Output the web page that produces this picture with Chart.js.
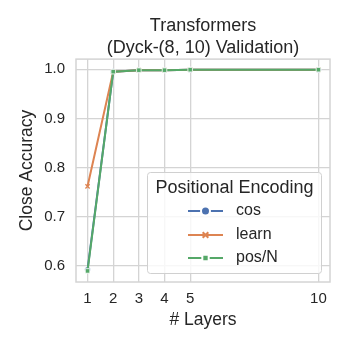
<!DOCTYPE html>
<html>
<head>
<meta charset="utf-8">
<script src="https://cdn.jsdelivr.net/npm/chart.js@4"></script>
<style>
  html, body { margin: 0; padding: 0; background: #ffffff; }
  #wrap { width: 349px; height: 349px; }
</style>
</head>
<body>
<div id="wrap"><canvas id="layersChart" width="349" height="349"></canvas></div>
<script>
// Data
const layers = [1, 2, 3, 4, 5, 10];
const cosAcc = [0.593, 0.995, 0.998, 0.998, 0.999, 0.999];
const learnAcc = [0.762, 0.995, 0.998, 0.998, 0.999, 0.999];
const posNAcc = [0.590, 0.995, 0.998, 0.998, 0.999, 0.999];
const xTicks = [1, 2, 3, 4, 5, 10];
const yTicks = [0.6, 0.7, 0.8, 0.9, 1.0];

const FONT = '"Liberation Sans", Arial, sans-serif';
const TEXT = '#262626';
const GRID = '#d4d4d4';

function toPoints(values) {
    return layers.map((x, i) => ({ x: x, y: values[i] }));
}

// frame around the plot (seaborn whitegrid spines)
const framePlugin = {
    id: 'frame',
    beforeDatasetsDraw(chart) {
        const a = chart.chartArea;
        const ctx = chart.ctx;
        ctx.save();
        ctx.strokeStyle = GRID;
        ctx.lineWidth = 1.5;
        ctx.strokeRect(a.left, a.top, a.right - a.left, a.bottom - a.top);
        ctx.restore();
    }
};

// legend box inside the plot, lower right
const legendPlugin = {
    id: 'boxLegend',
    afterDraw(chart) {
        const ctx = chart.ctx;
        const a = chart.chartArea;
        const x0 = a.right - 9, y0 = a.bottom - 9;
        const w = 174, h = 101;
        const left = x0 - w, top = y0 - h;
        ctx.save();
        ctx.beginPath();
        ctx.roundRect(left + 0.5, top + 0.5, w, h, 3);
        ctx.fillStyle = 'rgba(255,255,255,0.8)';
        ctx.fill();
        ctx.strokeStyle = '#d0d0d0';
        ctx.lineWidth = 1;
        ctx.stroke();

        ctx.fillStyle = TEXT;
        ctx.font = '18px ' + FONT;
        ctx.textAlign = 'center';
        ctx.textBaseline = 'middle';
        ctx.fillText('Positional Encoding', left + w / 2 + 0.5, top + 16);

        ctx.textAlign = 'left';
        ctx.font = '16px ' + FONT;
        const rows = [39, 63, 86];
        chart.data.datasets.forEach((ds, i) => {
            const y = top + rows[i];
            const sx = left + 41;
            ctx.strokeStyle = ds.borderColor;
            ctx.lineWidth = 2;
            ctx.beginPath();
            ctx.moveTo(sx, y);
            ctx.lineTo(sx + 35, y);
            ctx.stroke();
            ctx.fillStyle = ds.borderColor;
            const cross = ds.pointStyle === 'crossRot';
            ctx.strokeStyle = cross ? ds.borderColor : '#ffffff';
            Chart.helpers.drawPoint(ctx, {
                pointStyle: ds.pointStyle,
                radius: cross ? 4 : 4.5,
                rotation: 0,
                borderWidth: cross ? 3 : 0.8
            }, sx + 17.5, y);
            ctx.fillStyle = TEXT;
            ctx.fillText(ds.label, left + 89, y);
        });
        ctx.restore();
    }
};

const ctx = document.getElementById('layersChart').getContext('2d');

new Chart(ctx, {
    type: 'line',
    data: {
        datasets: [
            {
                label: 'cos',
                data: toPoints(cosAcc),
                borderColor: '#4c72b0',
                backgroundColor: '#4c72b0',
                pointBorderColor: '#ffffff',
                pointStyle: 'circle',
                pointRadius: 2.8,
                order: 3
            },
            {
                label: 'learn',
                data: toPoints(learnAcc),
                borderColor: '#dd8452',
                backgroundColor: '#dd8452',
                pointStyle: 'crossRot',
                pointRadius: 3,
                pointBorderWidth: 1.3,
                order: 2
            },
            {
                label: 'pos/N',
                data: toPoints(posNAcc),
                borderColor: '#55a868',
                backgroundColor: '#55a868',
                pointBorderColor: '#ffffff',
                pointStyle: 'rect',
                pointRadius: 3.2,
                order: 1
            }
        ]
    },
    options: {
        responsive: false,
        animation: false,
        devicePixelRatio: 1,
        layout: {
            padding: { left: 0, right: 19, top: 0, bottom: 0 }
        },
        elements: {
            line: { borderWidth: 2, tension: 0 },
            point: { borderWidth: 0.8, hoverRadius: 3 }
        },
        plugins: {
            legend: { display: false },
            tooltip: { enabled: false },
            title: {
                display: true,
                fullSize: false,
                text: ['Transformers', '(Dyck-(8, 10) Validation)'],
                color: TEXT,
                font: { family: FONT, size: 18, weight: 'normal', lineHeight: 1.17 },
                padding: { top: 16, bottom: 1 }
            }
        },
        scales: {
            x: {
                type: 'linear',
                min: 0.55,
                max: 10.45,
                afterBuildTicks: (scale) => {
                    scale.ticks = xTicks.map(v => ({ value: v }));
                },
                afterFit: (scale) => { scale.height = 67; },
                grid: { color: GRID, lineWidth: 1.3, drawTicks: false },
                border: { display: false },
                ticks: {
                    color: TEXT,
                    font: { family: FONT, size: 15 },
                    padding: 8,
                    maxRotation: 0,
                    callback: (v) => String(v)
                },
                title: {
                    display: true,
                    text: '# Layers',
                    color: TEXT,
                    font: { family: FONT, size: 17.5, lineHeight: 1.2 },
                    padding: { top: 0, bottom: 18 }
                }
            },
            y: {
                min: 0.5675,
                max: 1.0205,
                afterBuildTicks: (scale) => {
                    scale.ticks = yTicks.map(v => ({ value: v }));
                },
                afterFit: (scale) => { scale.width = 76; },
                grid: { color: GRID, lineWidth: 1.3, drawTicks: false },
                border: { display: false },
                ticks: {
                    color: TEXT,
                    font: { family: FONT, size: 15 },
                    padding: 11,
                    callback: (v) => v.toFixed(1)
                },
                title: {
                    display: true,
                    text: 'Close Accuracy',
                    color: TEXT,
                    font: { family: FONT, size: 17.5, lineHeight: 1.2 },
                    padding: { top: 16.5, bottom: 0 }
                }
            }
        }
    },
    plugins: [framePlugin, legendPlugin]
});
</script>
</body>
</html>
